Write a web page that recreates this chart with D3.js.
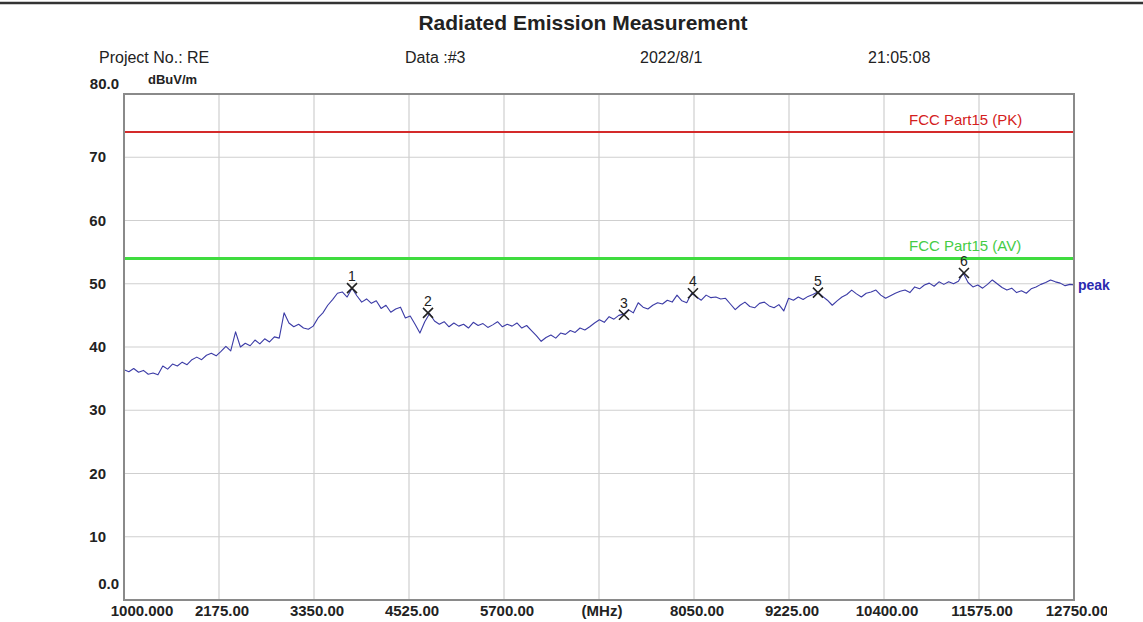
<!DOCTYPE html>
<html>
<head>
<meta charset="utf-8">
<script src="https://cdn.jsdelivr.net/npm/d3@7"></script>
<style>
  html, body { margin: 0; padding: 0; background: #fff; }
  svg { display: block; font-family: Arial, "Liberation Sans", sans-serif; }
</style>
</head>
<body>
<svg id="chart" width="1143" height="622"></svg>
<script>
// ---------------- data ----------------
const freqStart = 1000;      // MHz, first sweep point
const freqStep = 60;         // MHz between sweep points
const peakLevels = [
  36.4, 36.1, 36.6, 36.0, 36.3, 35.7, 35.9, 35.6,
  37.0, 36.5, 37.3, 37.0, 37.6, 37.2, 38.0, 38.4,
  38.0, 38.7, 39.0, 38.6, 39.3, 40.1, 39.4, 42.4,
  40.0, 40.6, 40.2, 41.1, 40.5, 41.3, 40.8, 41.6,
  41.4, 45.4, 43.8, 43.2, 43.6, 43.0, 42.8, 43.3,
  44.6, 45.4, 46.6, 47.5, 48.5, 48.7, 47.9, 49.3,
  48.1, 47.1, 47.6, 46.9, 47.3, 46.1, 46.6, 45.5,
  46.0, 46.3, 44.6, 44.9, 43.6, 42.2, 44.0, 45.3,
  44.1, 43.6, 44.0, 43.2, 43.8, 43.3, 43.6, 43.0,
  43.9, 43.4, 43.7, 43.1, 43.5, 44.0, 43.2, 43.6,
  43.3, 43.8, 43.0, 43.4, 42.6, 41.8, 40.9, 41.5,
  41.9, 41.4, 42.2, 42.0, 42.6, 42.3, 43.0, 42.7,
  43.2, 43.8, 44.3, 43.9, 44.8, 44.4, 45.0, 45.2,
  45.9, 45.4, 47.0, 46.3, 46.0, 46.6, 47.0, 46.8,
  47.4, 47.1, 48.2, 47.3, 47.0, 48.5, 47.9, 47.4,
  48.2, 47.8, 47.9, 47.6, 47.7, 46.8, 45.9, 46.6,
  47.1, 46.4, 46.2, 46.9, 47.1, 46.5, 46.2, 46.7,
  45.7, 47.7, 47.4, 47.9, 47.5, 48.0, 48.3, 48.7,
  48.0, 47.4, 46.6, 47.3, 47.9, 48.3, 49.0, 48.4,
  47.9, 48.5, 48.7, 49.0, 48.2, 47.7, 48.1, 48.5,
  48.8, 49.0, 48.6, 49.5, 49.2, 49.8, 50.1, 49.6,
  50.3, 49.9, 50.3, 50.0, 50.4, 51.7, 50.2, 49.5,
  49.8, 49.3, 49.9, 50.6, 50.0, 49.4, 49.0, 49.3,
  48.6, 48.9, 48.5, 49.2, 49.5, 49.9, 50.2, 50.6,
  50.3, 50.1, 49.7, 49.9, 49.8
];

const markerIds = ["1", "2", "3", "4", "5", "6"];
const markerFreqs = [3820, 4760, 7184, 8037, 9583, 11389];
const markerLevels = [49.3, 45.4, 45.1, 48.5, 48.6, 51.7];

const limitNames = ["FCC Part15 (PK)", "FCC Part15 (AV)"];
const limitLevels = [74, 54];

const xTickValues = [1000, 2175, 3350, 4525, 5700, 6875, 8050, 9225, 10400, 11575, 12750];
const xTickLabels = ["1000.000", "2175.00", "3350.00", "4525.00", "5700.00", "(MHz)",
                     "8050.00", "9225.00", "10400.00", "11575.00", "12750.00"];
const yTickValues = [0, 10, 20, 30, 40, 50, 60, 70, 80];
const yTickLabels = ["0.0", "10", "20", "30", "40", "50", "60", "70", "80.0"];

const headerTitle = "Radiated Emission Measurement";
const headerFields = ["Project No.: RE", "Data :#3", "2022/8/1", "21:05:08"];
const yUnit = "dBuV/m";
const traceName = "peak";

// ---------------- layout ----------------
const svg = d3.select("#chart");
const L = 124, R = 1074, T = 94, B = 600;
const x = d3.scaleLinear().domain([1000, 12750]).range([L, R]);
const y = d3.scaleLinear().domain([0, 80]).range([B, T]);

const limitColors = ["#d42a2a", "#3fdc3f"];
const limitTextColors = ["#d42020", "#45cc45"];

// top rule
svg.append("line").attr("x1", 0).attr("x2", 1143).attr("y1", 3).attr("y2", 3)
  .attr("stroke", "#333").attr("stroke-width", 2.5);

// header
svg.append("text").attr("x", 583).attr("y", 30).attr("text-anchor", "middle")
  .attr("font-size", 21).attr("font-weight", "bold").attr("fill", "#222").text(headerTitle);
const headerX = [99, 405, 640, 868];
svg.selectAll("text.hdr").data(headerFields).join("text").attr("class", "hdr")
  .attr("x", (d, i) => headerX[i]).attr("y", 63)
  .attr("font-size", 16).attr("fill", "#222").text(d => d);

// grid
const grid = svg.append("g");
grid.selectAll("line.vg").data(xTickValues.slice(1, -1)).join("line").attr("class", "vg")
  .attr("x1", d => x(d)).attr("x2", d => x(d)).attr("y1", T).attr("y2", B)
  .attr("stroke", "#cfcfcf").attr("stroke-width", 1.2);
grid.selectAll("line.hg").data(yTickValues.slice(1, -1)).join("line").attr("class", "hg")
  .attr("y1", d => y(d)).attr("y2", d => y(d)).attr("x1", L).attr("x2", R)
  .attr("stroke", "#cfcfcf").attr("stroke-width", 1.2);

// clip
svg.append("clipPath").attr("id", "plotclip").append("rect")
  .attr("x", L).attr("y", T).attr("width", R - L).attr("height", B - T);

// limit lines
svg.selectAll("line.lim").data(limitLevels).join("line").attr("class", "lim")
  .attr("x1", L).attr("x2", R).attr("y1", d => y(d)).attr("y2", d => y(d))
  .attr("stroke", (d, i) => limitColors[i]).attr("stroke-width", (d, i) => i === 0 ? 2 : 3);
svg.selectAll("text.lim").data(limitNames).join("text").attr("class", "lim")
  .attr("x", 909).attr("y", (d, i) => y(limitLevels[i]) - 7)
  .attr("font-size", 15).attr("fill", (d, i) => limitTextColors[i]).text(d => d);

// trace
const traceData = peakLevels.map((v, i) => [freqStart + i * freqStep, v]);
svg.append("path").datum(traceData)
  .attr("clip-path", "url(#plotclip)")
  .attr("fill", "none").attr("stroke", "#3b3ba6").attr("stroke-width", 1.1)
  .attr("stroke-linejoin", "round")
  .attr("d", d3.line().x(d => x(d[0])).y(d => y(d[1])));

svg.append("text").attr("x", 1078).attr("y", y(49.8) + 5)
  .attr("font-size", 14).attr("font-weight", "bold").attr("fill", "#2a2ab0").text(traceName);

// markers
const mk = svg.selectAll("g.mk").data(markerFreqs).join("g").attr("class", "mk")
  .attr("transform", (d, i) => `translate(${x(d)},${y(markerLevels[i])})`);
const s = 5;
mk.append("path").attr("d", `M${-s},${-s}L${s},${s}M${-s},${s}L${s},${-s}`)
  .attr("stroke", "#222").attr("stroke-width", 1.6).attr("fill", "none");
mk.append("text").attr("y", -7).attr("text-anchor", "middle")
  .attr("font-size", 14).attr("fill", "#222").text((d, i) => markerIds[i]);

// frame
svg.append("rect").attr("x", L).attr("y", T).attr("width", R - L).attr("height", B - T)
  .attr("fill", "none").attr("stroke", "#8a8a8a").attr("stroke-width", 2);

// y tick labels
svg.selectAll("text.yt").data(yTickValues).join("text").attr("class", "yt")
  .attr("x", (d, i) => (d === 0 || d === 80) ? 119 : 106)
  .attr("y", d => d === 0 ? 589 : (d === 80 ? 89 : y(d) + 5))
  .attr("text-anchor", "end")
  .attr("font-size", 15).attr("font-weight", "bold").attr("fill", "#222")
  .text((d, i) => yTickLabels[i]);
svg.append("text").attr("x", 148).attr("y", 84)
  .attr("font-size", 13).attr("font-weight", "bold").attr("fill", "#222").text(yUnit);

// x tick labels
svg.append("clipPath").attr("id", "xlclip").append("rect")
  .attr("x", 0).attr("y", 600).attr("width", 1107).attr("height", 22);
svg.append("g").attr("clip-path", "url(#xlclip)")
  .selectAll("text.xt").data(xTickValues).join("text").attr("class", "xt")
  .attr("x", (d, i) => i === 0 ? x(d) + 18 : x(d) + 3)
  .attr("y", 616)
  .attr("text-anchor", "middle")
  .attr("font-size", 15).attr("font-weight", "bold").attr("fill", "#222")
  .text((d, i) => xTickLabels[i]);
</script>
</body>
</html>
